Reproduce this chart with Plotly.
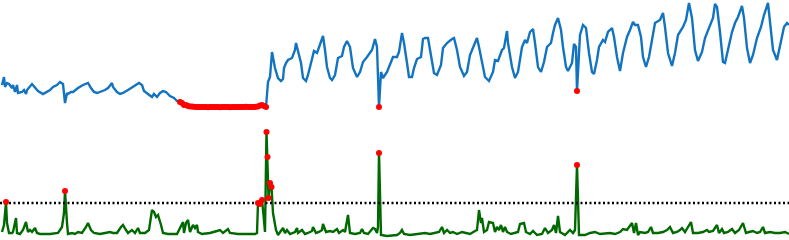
import plotly.graph_objects as go

# ---- top panel: observed signal ----
t_top = [2, 4, 5, 7, 9, 12, 13, 15, 17, 18, 22, 24, 26, 27, 32, 35, 38, 43, 47, 50, 53, 57, 60, 63, 65, 67, 68, 71, 73, 78,
         83, 86, 88, 91, 94, 97, 100, 105, 108, 112, 113, 117, 120, 123, 128, 133, 136, 139, 142, 144, 148, 152, 154, 157,
         160, 163, 166, 170, 174, 177,
         180, 182, 184, 186, 188, 190, 192, 194, 196, 198, 200, 202, 204, 206, 208, 210, 212, 214, 216, 218, 220, 222, 224,
         226, 228, 230, 232, 234, 236, 238, 240, 242, 244, 246, 248, 250, 252, 254, 256, 258, 260, 262, 264, 266,
         268, 270, 272, 273, 275, 278, 281, 283, 284, 286, 288, 292, 295, 296, 298, 301, 303, 306, 308, 312, 314, 317, 320,
         323, 325, 327, 330, 332, 335, 338, 342, 344, 347, 350, 353, 357, 360, 363, 367, 372, 375, 377, 379, 381, 383, 387,
         391, 393, 397, 399, 402, 404, 407, 409, 412, 414, 417, 421, 423, 425, 428, 431, 434, 437, 441, 443, 447, 452, 454,
         457, 460, 464, 467, 470, 473, 477, 479, 482, 485, 489, 493, 495, 498, 502, 504, 507, 508, 512, 515, 518, 522, 525,
         527, 530, 533, 535, 538, 541, 544, 547, 551, 553, 555, 558, 561, 563, 566, 568, 572, 574, 576, 577, 579, 580, 583,
         586, 589, 592, 594, 597, 599, 603, 605, 608, 612, 614, 617, 620, 623, 627, 630, 633, 635, 638, 641, 643, 646, 649,
         652, 655, 660, 663, 665, 668, 672, 675, 678, 683, 686, 689, 692, 695, 698, 702, 705, 709, 713, 715, 717, 720, 723,
         725, 728, 732, 735, 738, 742, 744, 747, 750, 753, 757, 761, 764, 768, 770, 773, 777, 781, 784, 787, 789]
v_top = [35, 43, 33, 37, 36, 32, 35, 28, 35, 27, 28, 30, 26, 30, 36, 33, 29, 26, 28, 30, 33, 35, 38, 36, 17, 27, 26, 28, 28, 32,
         35, 36, 37, 32, 28, 27, 28, 30, 32, 37, 33, 28, 26, 27, 30, 33, 35, 37, 35, 29, 26, 23, 26, 23,
         27, 29, 28, 24, 22, 19,
         18, 17, 15, 15, 14, 13.5, 13.4, 13.2, 13.1, 13.0, 12.9, 13.0, 13.1, 13.0, 12.8, 12.9, 13.0, 13.1, 13.0, 12.9, 12.8,
         12.9, 13.0, 13.0, 12.9, 12.8, 12.9, 13.0, 13.1, 13.0, 12.9, 13.0, 13.1, 13.2, 13.0, 12.9, 13.0, 13.1, 13.3, 13.5,
         14.5, 15, 14, 13,
         38, 43, 68, 63, 52, 42, 39, 41, 52, 57, 60, 62, 70, 77, 70, 57, 42, 39, 45, 60, 69, 67, 75,
         84, 70, 53, 42, 40, 45, 62, 64, 73, 79, 73, 52, 43, 48, 58, 63, 70, 81, 73, 13, 48, 42, 48,
         58, 63, 63, 68, 87, 77, 57, 43, 43, 52, 61, 63, 81, 82, 82, 63, 47, 45, 55, 72, 77, 81, 82,
         70, 53, 44, 48, 65, 72, 82, 73, 57, 43, 39, 48, 60, 59, 70, 72, 89, 77, 53, 42, 48, 73, 80,
         77, 88, 91, 77, 53, 48, 58, 73, 77, 87, 95, 102, 90, 73, 53, 49, 57, 76, 73, 29, 73, 85, 95,
         92, 67, 48, 46, 60, 73, 80, 78, 88, 92, 83, 63, 49, 67, 83, 90, 98, 95, 95, 83, 63, 53, 63,
         80, 97, 100, 107, 93, 67, 54, 67, 85, 93, 100, 117, 102, 70, 59, 68, 82, 92, 102, 116, 113, 88, 58,
         57, 70, 88, 97, 103, 114, 102, 72, 57, 65, 82, 93, 105, 117, 100, 70, 60, 77, 93, 97, 95]
top_anomaly_windows = [(180, 266), (379, 379), (577, 577)]

# ---- bottom panel: anomaly score ----
t_score = [2, 4, 6, 7, 9, 12, 13, 16, 17, 20, 23, 26, 28, 30, 32, 35, 37, 40, 45, 50, 58, 62, 64, 65, 67, 68, 72, 75, 78, 82,
           86, 88, 91, 94, 100, 107, 110, 113, 117, 121, 123, 126, 128, 132, 135, 138, 140, 145, 149, 152, 154, 156, 158,
           161, 163, 168, 177, 180, 183, 184, 186, 188, 190, 193, 195, 197, 198, 202, 210, 217, 220, 223, 228, 230, 238,
           245, 255, 257, 258, 260, 262, 263.5, 265, 266.5, 267.5, 268.5, 270, 271.5, 273, 276, 278, 283, 285, 287, 290,
           295, 297, 298, 302, 305, 308, 312, 313, 316, 319, 322, 323, 326, 330, 333, 337, 339, 343, 345, 348, 350, 355,
           360, 362, 364, 368, 373, 375, 377, 378, 379, 381, 387, 397, 400, 402, 404, 410, 422, 425, 430, 435, 439, 442,
           444, 447, 450, 453, 457, 462, 466, 470, 475, 477, 479, 481, 482, 484, 487, 489, 493, 495, 497, 499, 501, 503,
           505, 507, 511, 515, 518, 520, 524, 526, 530, 533, 537, 542, 545, 548, 552, 554, 556, 558, 560, 565, 570, 573,
           575, 577, 579, 585, 590, 595, 600, 610, 615, 620, 623, 627, 629, 632, 634, 636, 638, 640, 645, 648, 651, 653,
           658, 663, 667, 670, 673, 677, 680, 682, 685, 688, 691, 693, 698, 703, 707, 709, 713, 717, 719, 722, 724, 728,
           732, 735, 739, 743, 746, 749, 753, 757, 760, 763, 765, 770, 775, 780, 785, 789]
v_score = [8, 15, 38, 17, 7, 7, 8, 22, 7, 6, 10, 18, 8, 10, 8, 12, 7, 6, 6, 6, 7, 13, 27, 49, 17, 6, 7, 6, 8, 7,
           13, 17, 10, 7, 6, 7, 8, 7, 7, 13, 15, 10, 7, 10, 7, 12, 7, 7, 10, 30, 28, 23, 25,
           15, 7, 6, 6, 12, 18, 7, 17, 20, 8, 15, 12, 15, 8, 6, 7, 9, 10, 7, 11, 7, 6,
           6, 6, 7, 37, 36, 40, 25, 8, 108, 83, 42, 57, 53, 27, 10, 5, 12, 7, 10, 6,
           8, 12, 7, 10, 6, 7, 9, 13, 7, 8, 10, 16, 8, 9, 8, 11, 7, 10, 8, 25, 7, 6,
           7, 11, 7, 6, 12, 11, 7, 13, 87, 5, 4, 5, 7, 10, 6, 5, 6, 7, 6, 7, 8, 13,
           7, 10, 7, 8, 6, 8, 7, 6, 9, 10, 30, 17, 22, 8, 10, 18, 17, 8, 13, 10, 15, 8,
           13, 8, 6, 7, 8, 16, 17, 8, 6, 9, 5, 6, 12, 7, 10, 15, 7, 24, 8, 5, 10, 7,
           10, 75, 5, 5, 7, 8, 6, 7, 6, 8, 11, 10, 13, 17, 7, 17, 5, 8, 7, 8, 13, 7,
           7, 8, 10, 13, 7, 8, 10, 12, 8, 13, 18, 7, 7, 8, 10, 8, 9, 15, 7, 11, 7, 8,
           11, 7, 10, 17, 7, 8, 9, 7, 8, 13, 7, 8, 7, 7, 8, 6]
threshold = 37
score_anomaly_t = [6, 65, 258, 260, 262, 266.5, 267.5, 268.5, 270, 271.5, 379, 577]

# ---- select flagged points ----
top_red_t, top_red_v = [], []
for t, v in zip(t_top, v_top):
    if any(a <= t <= b for a, b in top_anomaly_windows):
        top_red_t.append(t)
        top_red_v.append(v)
sc_red_t, sc_red_v = [], []
for t, v in zip(t_score, v_score):
    if t in score_anomaly_t:
        sc_red_t.append(t)
        sc_red_v.append(v)

BLUE = "#1274c0"
GREEN = "#006a00"

fig = go.Figure()
fig.add_trace(go.Scatter(x=t_top, y=v_top, mode="lines", line=dict(color=BLUE, width=2.4),
                         xaxis="x", yaxis="y", showlegend=False, hoverinfo="skip"))
fig.add_trace(go.Scatter(x=top_red_t, y=top_red_v, mode="markers",
                         marker=dict(color="red", size=6, line=dict(width=0)),
                         xaxis="x", yaxis="y", showlegend=False))
fig.add_trace(go.Scatter(x=t_score, y=v_score, mode="lines", line=dict(color=GREEN, width=2.4),
                         xaxis="x2", yaxis="y2", showlegend=False, hoverinfo="skip"))
fig.add_trace(go.Scatter(x=[0, 789], y=[threshold, threshold], mode="lines",
                         line=dict(color="black", width=2.4, dash="2px,2.5px"),
                         xaxis="x2", yaxis="y2", showlegend=False, hoverinfo="skip"))
fig.add_trace(go.Scatter(x=sc_red_t, y=sc_red_v, mode="markers",
                         marker=dict(color="red", size=6, line=dict(width=0)),
                         xaxis="x2", yaxis="y2", showlegend=False))

ax = dict(visible=False, showgrid=False, zeroline=False, fixedrange=True)
fig.update_layout(
    width=789, height=240,
    margin=dict(l=0, r=0, t=0, b=0),
    paper_bgcolor="white", plot_bgcolor="white",
    xaxis=dict(ax, domain=[0, 1], range=[0, 789], anchor="y"),
    yaxis=dict(ax, domain=[0.5, 1], range=[0, 120], anchor="x"),
    xaxis2=dict(ax, domain=[0, 1], range=[0, 789], anchor="y2"),
    yaxis2=dict(ax, domain=[0, 0.5], range=[0, 120], anchor="x2"),
    showlegend=False,
)
fig.write_html("out.html", config={"displayModeBar": False},
               post_script="document.body.style.margin='0';document.body.style.overflow='hidden';")
